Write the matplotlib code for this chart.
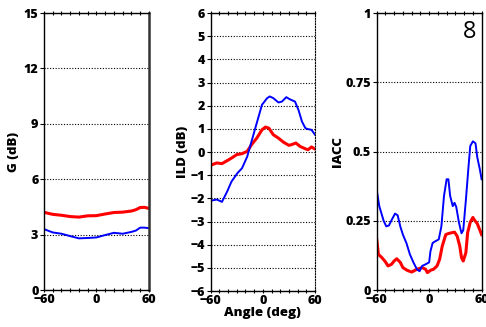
import matplotlib
matplotlib.use("Agg")
import matplotlib.pyplot as plt
from matplotlib.ticker import MultipleLocator

plt.rcParams["font.family"] = ["Open Sans", "DejaVu Sans"]

# G (dB)
g_ang = [-60, -50, -40, -30, -20, -10, 0, 10, 20, 30, 40, 45, 50, 55, 60]
g_red = [4.21, 4.1, 4.05, 3.98, 3.95, 4.02, 4.03, 4.12, 4.2, 4.22, 4.28, 4.35, 4.47, 4.48, 4.42]
g_blue = [3.3, 3.12, 3.05, 2.92, 2.8, 2.82, 2.85, 2.98, 3.1, 3.05, 3.15, 3.22, 3.38, 3.38, 3.35]

# ILD (dB)
ild_blue_ang = [-60, -53, -47, -41, -36, -29, -24, -18, -13, -7, -1, 5, 8, 12, 18, 22, 27,
                31, 37, 41, 45, 49, 52, 56, 60]
ild_blue = [-2.1, -2.05, -2.15, -1.7, -1.27, -0.9, -0.7, -0.2, 0.46, 1.25, 2.04, 2.33, 2.4,
            2.33, 2.14, 2.18, 2.37, 2.28, 2.18, 1.82, 1.32, 1.03, 0.99, 0.96, 0.75]
ild_red_ang = [-60, -53, -47, -41, -36, -30, -24, -18, -13, -7, -1, 3, 7, 12, 18, 24, 30,
               33, 38, 43, 49, 52, 56, 60]
ild_red = [-0.57, -0.47, -0.5, -0.37, -0.26, -0.11, -0.07, 0.03, 0.32, 0.6, 0.96, 1.08, 1.03,
           0.75, 0.6, 0.42, 0.29, 0.32, 0.39, 0.24, 0.14, 0.1, 0.22, 0.13]

# IACC
iacc_blue_ang = [-60, -57, -52, -49, -46, -43, -39, -36, -33, -30, -26, -22, -18, -14, -11,
                 -8, -4, 0, 1.5, 4, 7, 11, 14, 17, 20, 22, 24, 27, 29, 31, 34, 37, 39, 42,
                 45, 47, 50, 53, 55, 58, 60]
iacc_blue = [0.363, 0.303, 0.25, 0.23, 0.233, 0.252, 0.276, 0.27, 0.23, 0.2, 0.17, 0.129,
             0.1, 0.075, 0.068, 0.087, 0.093, 0.1, 0.14, 0.17, 0.176, 0.183, 0.23, 0.34,
             0.4, 0.4, 0.34, 0.303, 0.315, 0.3, 0.245, 0.205, 0.216, 0.325, 0.445, 0.52,
             0.537, 0.53, 0.48, 0.435, 0.4]
iacc_red_ang = [-60, -58, -54, -50, -47, -43, -40, -37, -33, -30, -25, -20, -14, -8, -4, -2,
                2, 5, 9, 12, 15, 19, 22, 26, 29, 32, 35, 37, 39, 42, 44, 47, 50, 52, 55, 58, 60]
iacc_red = [0.185, 0.129, 0.117, 0.102, 0.087, 0.093, 0.105, 0.113, 0.1, 0.081, 0.071, 0.065,
            0.075, 0.081, 0.075, 0.063, 0.072, 0.075, 0.087, 0.111, 0.159, 0.2, 0.204, 0.207,
            0.209, 0.195, 0.159, 0.117, 0.105, 0.135, 0.207, 0.245, 0.262, 0.252, 0.24,
            0.216, 0.2]

fig = plt.figure(figsize=(4.86, 3.27), dpi=100)
ax1 = fig.add_axes([0.0905, 0.113, 0.216, 0.847])
ax2 = fig.add_axes([0.4335, 0.110, 0.2146, 0.850])
ax3 = fig.add_axes([0.775, 0.113, 0.216, 0.847])

RED_LW = 2.2
BLUE_LW = 1.4
TICK_FS = 9
LABEL_FS = 9.5
WEIGHT = 800

ax1.plot(g_ang, g_red, color="#ff0000", lw=RED_LW)
ax1.plot(g_ang, g_blue, color="#0000ff", lw=BLUE_LW)
ax1.set_ylim(0, 15)
ax1.set_yticks([0, 3, 6, 9, 12, 15])
ax1.set_ylabel("G (dB)", fontweight=WEIGHT, fontsize=LABEL_FS, labelpad=3)

ax2.plot(ild_red_ang, ild_red, color="#ff0000", lw=RED_LW)
ax2.plot(ild_blue_ang, ild_blue, color="#0000ff", lw=BLUE_LW)
ax2.set_ylim(-6, 6)
ax2.set_yticks(range(-6, 7))
ax2.set_ylabel("ILD (dB)", fontweight=WEIGHT, fontsize=LABEL_FS, labelpad=1)
ax2.set_xlabel("Angle (deg)", fontweight=WEIGHT, fontsize=LABEL_FS, labelpad=0)

ax3.plot(iacc_red_ang, iacc_red, color="#ff0000", lw=RED_LW)
ax3.plot(iacc_blue_ang, iacc_blue, color="#0000ff", lw=BLUE_LW)
ax3.set_ylim(0, 1)
ax3.set_yticks([0, 0.25, 0.5, 0.75, 1])
ax3.set_yticklabels(["0", "0.25", "0.5", "0.75", "1"])
ax3.set_ylabel("IACC", fontweight=WEIGHT, fontsize=LABEL_FS, labelpad=1)
ax3.text(0.95, 0.975, "8", transform=ax3.transAxes, ha="right", va="top", fontsize=17)

for ax in (ax1, ax2, ax3):
    ax.set_xlim(-60, 60)
    ax.set_xticks([-60, 0, 60])
    ax.xaxis.set_minor_locator(MultipleLocator(10))
    ax.grid(axis="y", color="black", linestyle=(0, (1, 1.5)), linewidth=0.8)
    ax.tick_params(axis="both", which="major", labelsize=TICK_FS, width=0.8, length=3, pad=1)
    ax.tick_params(axis="x", which="major", pad=1.5)
    ax.tick_params(axis="x", which="both", direction="inout", top=True)
    ax.tick_params(axis="x", which="minor", length=2.5, width=0.8)
    for lab in ax.get_xticklabels() + ax.get_yticklabels():
        lab.set_fontweight(WEIGHT)
    ax.spines["left"].set_linewidth(1.0)
    ax.spines["bottom"].set_linewidth(1.0)
    ax.spines["top"].set_linewidth(1.0)

ax1.spines["right"].set_color("#333333")
ax1.spines["right"].set_linewidth(1.8)
ax2.spines["right"].set_linestyle((0, (1, 1.5)))
ax2.spines["right"].set_linewidth(0.8)
ax3.spines["right"].set_linewidth(1.0)

fig.savefig("out.png", dpi=100)
